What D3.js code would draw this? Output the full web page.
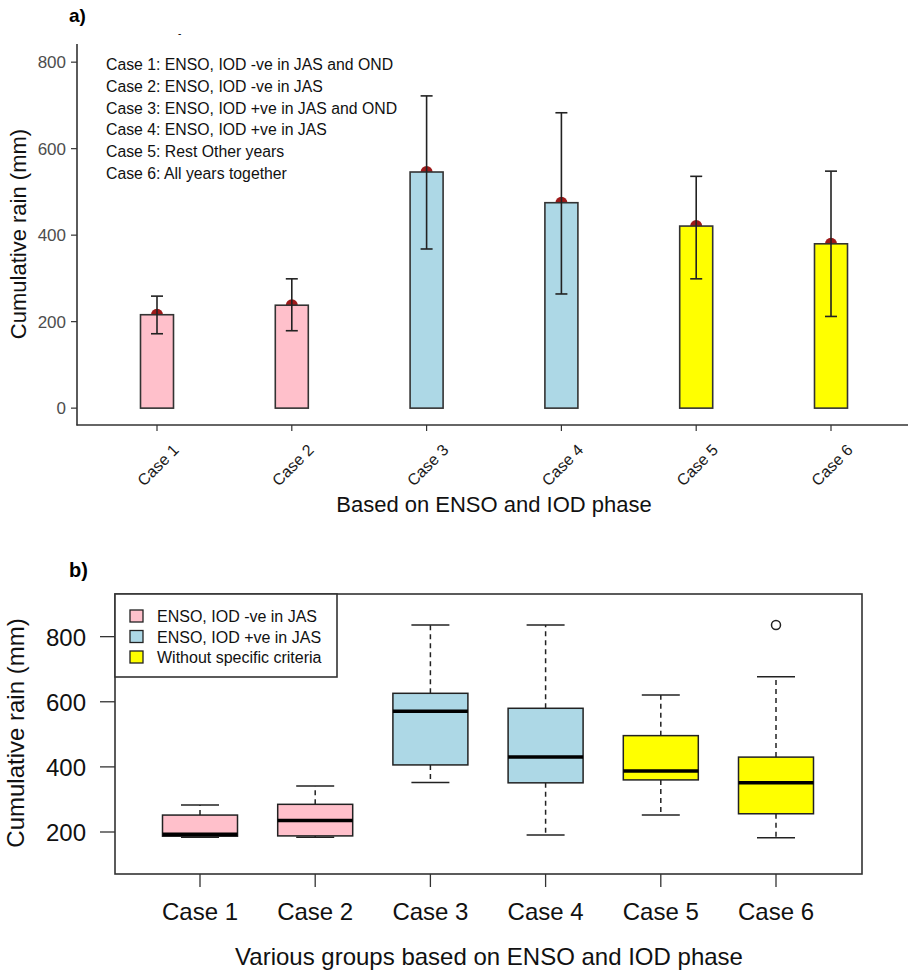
<!DOCTYPE html>
<html>
<head>
<meta charset="utf-8">
<script src="https://cdn.jsdelivr.net/npm/d3@7"></script>
<style>
  body { margin: 0; background: #fff; }
  text { font-family: "Liberation Sans", Arial, sans-serif; }
</style>
</head>
<body>
<script>
// Data (cumulative rain, mm)
const cases = ['Case 1', 'Case 2', 'Case 3', 'Case 4', 'Case 5', 'Case 6'];
const groups = ['neg', 'neg', 'pos', 'pos', 'other', 'other'];

// panel a: mean bars with error bars
const barMean = [216, 238, 546, 475, 421, 380];
const errLow  = [172, 179, 368, 264, 299, 212];
const errHigh = [259, 299, 722, 683, 536, 548];
const notes = [
  'Case 1: ENSO, IOD -ve in JAS and OND',
  'Case 2: ENSO, IOD -ve in JAS',
  'Case 3: ENSO, IOD +ve in JAS and OND',
  'Case 4: ENSO, IOD +ve in JAS',
  'Case 5: Rest Other years',
  'Case 6: All years together'
];
const ticksA = [0, 200, 400, 600, 800];

// panel b: box plots
const boxLow  = [184, 184, 352, 191, 252, 182];
const boxQ1   = [187, 188, 406, 351, 360, 256];
const boxMed  = [193, 235, 571, 430, 387, 351];
const boxQ3   = [252, 285, 626, 580, 496, 430];
const boxHigh = [283, 341, 836, 836, 621, 677];
const outliers = [[], [], [], [], [], [836]];
const ticksB = [200, 400, 600, 800];
const legendLabels = ['ENSO, IOD -ve in JAS', 'ENSO, IOD +ve in JAS', 'Without specific criteria'];
const legendGroups = ['neg', 'pos', 'other'];

const fill = d3.scaleOrdinal()
  .domain(['neg', 'pos', 'other'])
  .range(['#ffc0cb', '#add8e6', '#ffff00']);

const W = 908, H = 973;
const svg = d3.select('body').append('svg')
  .attr('width', W).attr('height', H);
svg.append('rect').attr('width', W).attr('height', H).attr('fill', '#fff');

// ---------- panel a ----------
const xa = d3.scalePoint().domain(cases).range([157, 831]);
const ya = d3.scaleLinear().domain([-39, 842]).range([425, 44]);
const ink = '#333';

svg.append('text').attr('x', 69).attr('y', 22)
  .attr('font-size', 19).attr('font-weight', 'bold').text('a)');
svg.append('text').attr('x', 178).attr('y', 37)
  .attr('font-size', 10).text('-');

const ga = svg.append('g');
const barW = 33;

// mean points sit behind the bars
ga.selectAll('.pt').data(cases).join('circle')
  .attr('cx', d => xa(d))
  .attr('cy', (d, i) => ya(barMean[i]))
  .attr('r', 6)
  .attr('fill', '#9e1a1a');

ga.selectAll('.bar').data(cases).join('rect')
  .attr('x', d => xa(d) - barW / 2)
  .attr('y', (d, i) => ya(barMean[i]))
  .attr('width', barW)
  .attr('height', (d, i) => ya(0) - ya(barMean[i]))
  .attr('fill', (d, i) => fill(groups[i]))
  .attr('stroke', ink).attr('stroke-width', 1.6);

const err = ga.selectAll('.err').data(cases).join('g')
  .attr('stroke', '#222').attr('stroke-width', 1.6);
err.append('line')
  .attr('x1', d => xa(d)).attr('x2', d => xa(d))
  .attr('y1', (d, i) => ya(errLow[i])).attr('y2', (d, i) => ya(errHigh[i]));
[errLow, errHigh].forEach(arr => {
  err.append('line')
    .attr('x1', d => xa(d) - 6).attr('x2', d => xa(d) + 6)
    .attr('y1', (d, i) => ya(arr[i])).attr('y2', (d, i) => ya(arr[i]));
});

// axes (classic theme: left + bottom only)
const axA = svg.append('g');
axA.append('line').attr('x1', 77).attr('x2', 77).attr('y1', 44).attr('y2', 425.5)
  .attr('stroke', ink).attr('stroke-width', 1.6);
axA.append('line').attr('x1', 76.5).attr('x2', W).attr('y1', 425).attr('y2', 425)
  .attr('stroke', ink).attr('stroke-width', 1.6);

axA.selectAll('.yt').data(ticksA).join('line')
  .attr('x1', 71).attr('x2', 77)
  .attr('y1', d => ya(d)).attr('y2', d => ya(d))
  .attr('stroke', ink).attr('stroke-width', 1.2);
axA.selectAll('.yl').data(ticksA).join('text')
  .attr('x', 66).attr('y', d => ya(d) + 6)
  .attr('text-anchor', 'end').attr('font-size', 17).attr('fill', '#4d4d4d')
  .text(d => d);

axA.selectAll('.xt').data(cases).join('line')
  .attr('x1', d => xa(d)).attr('x2', d => xa(d))
  .attr('y1', 425).attr('y2', 431)
  .attr('stroke', ink).attr('stroke-width', 1.2);
axA.selectAll('.xl').data(cases).join('text')
  .attr('transform', d => `translate(${xa(d) + 1},${465}) rotate(-45)`)
  .attr('text-anchor', 'middle').attr('dy', '0.35em')
  .attr('font-size', 16).attr('fill', '#1a1a1a')
  .text(d => d);

svg.append('text').attr('x', 494).attr('y', 512)
  .attr('text-anchor', 'middle').attr('font-size', 22).attr('fill', '#111')
  .text('Based on ENSO and IOD phase');
svg.append('text')
  .attr('transform', 'translate(26,234) rotate(-90)')
  .attr('text-anchor', 'middle').attr('font-size', 22).attr('fill', '#111')
  .text('Cumulative rain (mm)');

svg.append('g').selectAll('text').data(notes).join('text')
  .attr('x', 106).attr('y', (d, i) => 70 + i * 21.8)
  .attr('font-size', 15.8).attr('fill', '#111')
  .text(d => d);

// ---------- panel b ----------
const xb = d3.scalePoint().domain(cases).range([200, 776]);
const yb = d3.scaleLinear().domain([71, 931]).range([874, 594]);
const bw = 75;

svg.append('text').attr('x', 69).attr('y', 577)
  .attr('font-size', 20).attr('font-weight', 'bold').text('b)');

const gb = svg.append('g');
const box = gb.selectAll('.box').data(cases).join('g');

// whiskers (dashed) and caps
box.append('line')
  .attr('x1', d => xb(d)).attr('x2', d => xb(d))
  .attr('y1', (d, i) => yb(boxQ3[i])).attr('y2', (d, i) => yb(boxHigh[i]))
  .attr('stroke', '#222').attr('stroke-width', 1.5).attr('stroke-dasharray', '5,4');
box.append('line')
  .attr('x1', d => xb(d)).attr('x2', d => xb(d))
  .attr('y1', (d, i) => yb(boxQ1[i])).attr('y2', (d, i) => yb(boxLow[i]))
  .attr('stroke', '#222').attr('stroke-width', 1.5).attr('stroke-dasharray', '5,4');
[boxLow, boxHigh].forEach(arr => {
  box.append('line')
    .attr('x1', d => xb(d) - 19).attr('x2', d => xb(d) + 19)
    .attr('y1', (d, i) => yb(arr[i])).attr('y2', (d, i) => yb(arr[i]))
    .attr('stroke', '#222').attr('stroke-width', 1.5);
});
box.append('rect')
  .attr('x', d => xb(d) - bw / 2).attr('width', bw)
  .attr('y', (d, i) => yb(boxQ3[i]))
  .attr('height', (d, i) => yb(boxQ1[i]) - yb(boxQ3[i]))
  .attr('fill', (d, i) => fill(groups[i]))
  .attr('stroke', '#222').attr('stroke-width', 1.5);
box.append('line')
  .attr('x1', d => xb(d) - bw / 2).attr('x2', d => xb(d) + bw / 2)
  .attr('y1', (d, i) => yb(boxMed[i])).attr('y2', (d, i) => yb(boxMed[i]))
  .attr('stroke', '#000').attr('stroke-width', 3.5);
box.each(function (d, i) {
  d3.select(this).selectAll('circle').data(outliers[i]).join('circle')
    .attr('cx', xb(d)).attr('cy', v => yb(v)).attr('r', 4.5)
    .attr('fill', 'none').attr('stroke', '#222').attr('stroke-width', 1.5);
});

// frame and axes
svg.append('rect').attr('x', 115).attr('y', 594).attr('width', 747).attr('height', 280)
  .attr('fill', 'none').attr('stroke', '#333').attr('stroke-width', 1.6);

const axB = svg.append('g');
axB.selectAll('.yt').data(ticksB).join('line')
  .attr('x1', 100).attr('x2', 115)
  .attr('y1', d => yb(d)).attr('y2', d => yb(d))
  .attr('stroke', '#333').attr('stroke-width', 1.3);
axB.selectAll('.yl').data(ticksB).join('text')
  .attr('x', 86).attr('y', d => yb(d) + 9)
  .attr('text-anchor', 'end').attr('font-size', 24).attr('fill', '#111')
  .text(d => d);
axB.selectAll('.xt').data(cases).join('line')
  .attr('x1', d => xb(d)).attr('x2', d => xb(d))
  .attr('y1', 874).attr('y2', 887)
  .attr('stroke', '#333').attr('stroke-width', 1.3);
axB.selectAll('.xl').data(cases).join('text')
  .attr('x', d => xb(d)).attr('y', 920)
  .attr('text-anchor', 'middle').attr('font-size', 24).attr('fill', '#111')
  .text(d => d);

svg.append('text').attr('x', 489).attr('y', 965)
  .attr('text-anchor', 'middle').attr('font-size', 24).attr('fill', '#111')
  .text('Various groups based on ENSO and IOD phase');
svg.append('text')
  .attr('transform', 'translate(24,733) rotate(-90)')
  .attr('text-anchor', 'middle').attr('font-size', 24).attr('fill', '#111')
  .text('Cumulative rain (mm)');

// legend
const leg = svg.append('g');
leg.append('rect').attr('x', 115).attr('y', 594).attr('width', 222).attr('height', 83)
  .attr('fill', '#fff').attr('stroke', '#333').attr('stroke-width', 1.6);
const item = leg.selectAll('.it').data(legendLabels).join('g')
  .attr('transform', (d, i) => `translate(0,${616 + i * 20.5})`);
item.append('rect').attr('x', 130).attr('y', -6).attr('width', 13).attr('height', 12)
  .attr('fill', (d, i) => fill(legendGroups[i]))
  .attr('stroke', '#222').attr('stroke-width', 1.3);
item.append('text').attr('x', 157).attr('y', 6)
  .attr('font-size', 16).attr('fill', '#111')
  .text(d => d);
</script>
</body>
</html>
